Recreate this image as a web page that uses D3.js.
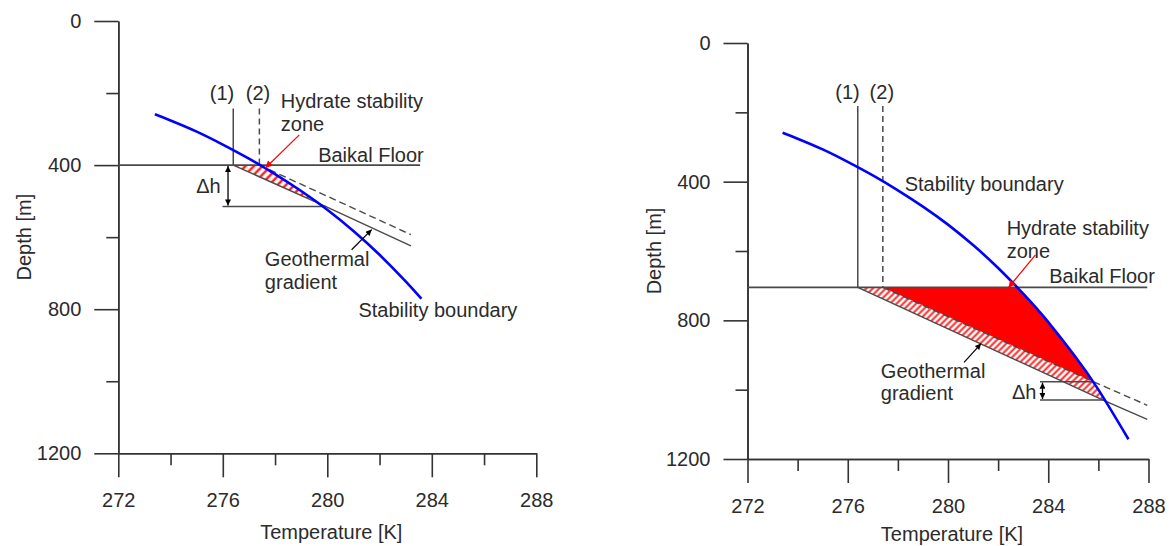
<!DOCTYPE html>
<html><head><meta charset="utf-8">
<script src="https://cdn.jsdelivr.net/npm/d3@7"></script>
<style>
body{margin:0;background:#fff}
svg{display:block}
text{font-family:"Liberation Sans",Arial,sans-serif;font-size:20px;fill:#2b2b2b}
</style>
</head><body>
<svg id="c" width="1173" height="546"></svg>
<script>
// ---------- tick values ----------
const tempTicks = [272, 276, 280, 284, 288];
const tempMinorTicks = [274, 278, 282, 286];
const depthTicks = [0, 400, 800, 1200];
const depthMinorTicks = [200, 600, 1000];

// ---------- stability boundary (T [K], depth [m]) ----------
const stabilityT     = [273.4, 274.0, 275.0, 276.0, 277.0, 278.0, 279.0, 280.0, 281.0, 282.0, 283.0, 283.6, 284.0, 285.0, 286.0, 287.2];
const stabilityDepth = [259,   276,   307,   343,   382,   425,   472,   524,   583,   649,   723,   771,   805,   897,   1000,  1143];
const leftStabilityMaxT = 283.6;

// ---------- left panel ----------
const leftFloorDepth = 400;
const leftFloorT = [272, 283.55];
const leftLine1T = 276.4, leftLine2T = 277.4;
const leftLinesDepth = [243, 400];
const leftGeoSolidT = [276.4, 279.95, 283.2];
const leftGeoSolidD = [400, 515, 624];
const leftGeoDashT = [277.4, 283.2];
const leftGeoDashD = [400, 593];
const leftDeltaLineT = [275.99, 279.95];
const leftDeltaLineD = 515;
const leftDeltaArrowT = 276.2;
const leftDeltaArrowD = [400, 515];
const leftRedArrow = [[278.93, 316], [277.63, 408]];
const leftBlackArrow = [[280.93, 635], [281.70, 579]];
const leftLabels = [
  {t: "(1)", T: 275.97, D: 200, a: "middle"},
  {t: "(2)", T: 277.35, D: 200, a: "middle"},
  {t: "Hydrate stability", T: 278.22, D: 222, a: "start"},
  {t: "zone", T: 278.22, D: 285, a: "start"},
  {t: "Baikal Floor", T: 279.65, D: 373, a: "start"},
  {t: "\u0394h", T: 275.92, D: 458, a: "end"},
  {t: "Geothermal", T: 277.61, D: 661, a: "start"},
  {t: "gradient", T: 277.61, D: 725, a: "start"},
  {t: "Stability boundary", T: 281.19, D: 803, a: "start"}
];

// ---------- right panel ----------
const rightFloorDepth = 705;
const rightFloorT = [272, 287.95];
const rightLine1T = 276.4, rightLine2T = 277.4;
const rightLinesDepth = [182, 705];
const rightGeoSolidT = [276.4, 286.19, 287.95];
const rightGeoSolidD = [705, 1030, 1086];
const rightGeoDashT = [277.4, 285.8, 287.95];
const rightGeoDashD = [705, 977, 1045];
const rightDeltaTopT = [283.67, 285.8];
const rightDeltaTopD = 977;
const rightDeltaBotT = [283.67, 286.19];
const rightDeltaBotD = 1030;
const rightDeltaArrowT = 283.77;
const rightRedArrow = [[283.49, 611], [282.41, 706]];
const rightBlackArrow = [[280.64, 921], [281.32, 867]];
const rightLabels = [
  {t: "(1)", T: 275.99, D: 140, a: "middle"},
  {t: "(2)", T: 277.36, D: 140, a: "middle"},
  {t: "Stability boundary", T: 278.27, D: 407, a: "start"},
  {t: "Hydrate stability", T: 282.34, D: 533, a: "start"},
  {t: "zone", T: 282.34, D: 599, a: "start"},
  {t: "Baikal Floor", T: 284.04, D: 671, a: "start"},
  {t: "Geothermal", T: 277.32, D: 945, a: "start"},
  {t: "gradient", T: 277.32, D: 1010, a: "start"},
  {t: "\u0394h", T: 283.53, D: 1008, a: "end"}
];

const svg = d3.select("#c");
const defs = svg.append("defs");

function hatch(id, s) {
  const p = defs.append("pattern").attr("id", id).attr("patternUnits", "userSpaceOnUse")
    .attr("width", s).attr("height", s).attr("patternTransform", "rotate(45)");
  p.append("rect").attr("width", s).attr("height", s).attr("fill", "#fff");
  p.append("line").attr("x1", s / 2).attr("x2", s / 2).attr("y1", 0).attr("y2", s)
    .attr("stroke", "#ff2020").attr("stroke-width", s * 0.42);
}
hatch("hatchL", 6);
hatch("hatchR", 4.6);

function marker(id, color, w, h) {
  defs.append("marker").attr("id", id).attr("viewBox", "0 0 10 10").attr("refX", 10).attr("refY", 5)
    .attr("markerUnits", "userSpaceOnUse").attr("markerWidth", w).attr("markerHeight", h)
    .attr("orient", "auto-start-reverse")
    .append("path").attr("d", "M0,0 L10,5 L0,10 Z").attr("fill", color);
}
marker("arrRed", "#ff0000", 9, 7);
marker("arrBlk", "#000", 8, 6);

function panel(cfg) {
  const x = d3.scaleLinear().domain([272, 288]).range(cfg.xr);
  const y = d3.scaleLinear().domain([0, 1200]).range(cfg.yr);
  const g = svg.append("g");
  const pts = (T, D) => T.map((t, i) => [x(t), y(D[i])]);
  const lineGen = d3.line();
  const blueGen = d3.line().curve(d3.curveNatural);

  const stabPts = stabilityT.map((t, i) => [t, stabilityDepth[i]])
    .filter(d => d[0] <= cfg.stabMaxT + 1e-9).map(d => [x(d[0]), y(d[1])]);

  // clip: region left of (below) the stability boundary
  const last = stabPts[stabPts.length - 1], first = stabPts[0];
  const clipId = "clip" + cfg.id;
  defs.append("clipPath").attr("id", clipId).append("path")
    .attr("d", blueGen(stabPts) + `L${last[0]},${last[1] + 2000}L${first[0] - 2000},${last[1] + 2000}L${first[0] - 2000},${first[1]}Z`);

  // shaded regions
  cfg.regions.forEach(r => {
    g.append("path").attr("d", lineGen(r.poly.map(d => [x(d[0]), y(d[1])])) + "Z")
      .attr("fill", r.fill).attr("clip-path", `url(#${clipId})`);
  });

  // axes
  const ax = g.append("g").attr("transform", `translate(0,${cfg.yr[1]})`)
    .call(d3.axisBottom(x).tickValues(tempTicks).tickFormat(d3.format("d")).tickSize(24).tickSizeOuter(0).tickPadding(16));
  const axm = g.append("g").attr("transform", `translate(0,${cfg.yr[1]})`)
    .call(d3.axisBottom(x).tickValues(tempMinorTicks).tickFormat("").tickSize(12).tickSizeOuter(0));
  const ay = g.append("g").attr("transform", `translate(${cfg.xr[0]},0)`)
    .call(d3.axisLeft(y).tickValues(depthTicks).tickFormat(d3.format("d")).tickSize(24).tickSizeOuter(0).tickPadding(13));
  const aym = g.append("g").attr("transform", `translate(${cfg.xr[0]},0)`)
    .call(d3.axisLeft(y).tickValues(depthMinorTicks).tickFormat("").tickSize(12).tickSizeOuter(0));
  [ax, axm, ay, aym].forEach(a => {
    a.selectAll("path,line").attr("stroke", "#333").attr("stroke-width", 1.6);
    a.selectAll("text").attr("font-size", 20).attr("fill", "#2b2b2b")
      .style("font-family", '"Liberation Sans",Arial,sans-serif');
  });

  // axis titles
  g.append("text").attr("x", (cfg.xr[0] + cfg.xr[1]) / 2 + 4).attr("y", cfg.titleY).attr("dy", "0.35em")
    .attr("text-anchor", "middle").text("Temperature [K]");
  g.append("text").attr("transform", `translate(${cfg.xr[0] - 94},${(cfg.yr[0] + cfg.yr[1]) / 2}) rotate(-90)`)
    .attr("dy", "0.35em").attr("text-anchor", "middle").text("Depth [m]");

  const grey = "#4a4a4a";
  // floor
  g.append("line").attr("x1", x(cfg.floorT[0])).attr("x2", x(cfg.floorT[1]))
    .attr("y1", y(cfg.floorD)).attr("y2", y(cfg.floorD)).attr("stroke", grey).attr("stroke-width", 1.6);
  // vertical (1) and (2)
  g.append("line").attr("x1", x(cfg.l1)).attr("x2", x(cfg.l1)).attr("y1", y(cfg.lD[0])).attr("y2", y(cfg.lD[1]))
    .attr("stroke", grey).attr("stroke-width", 1.5);
  g.append("line").attr("x1", x(cfg.l2)).attr("x2", x(cfg.l2)).attr("y1", y(cfg.lD[0])).attr("y2", y(cfg.lD[1]))
    .attr("stroke", grey).attr("stroke-width", 1.5).attr("stroke-dasharray", "6,4");
  // geothermal gradients
  g.append("path").attr("d", lineGen(pts(cfg.geoT, cfg.geoD))).attr("fill", "none")
    .attr("stroke", grey).attr("stroke-width", 1.4);
  g.append("path").attr("d", lineGen(pts(cfg.dashT, cfg.dashD))).attr("fill", "none")
    .attr("stroke", grey).attr("stroke-width", 1.4).attr("stroke-dasharray", "7,4");
  // delta h lines
  cfg.deltaLines.forEach(l => {
    g.append("line").attr("x1", x(l.T[0])).attr("x2", x(l.T[1])).attr("y1", y(l.D)).attr("y2", y(l.D))
      .attr("stroke", grey).attr("stroke-width", 1.5);
  });
  g.append("line").attr("x1", x(cfg.dArrowT)).attr("x2", x(cfg.dArrowT))
    .attr("y1", y(cfg.dArrowD[0]) + 1).attr("y2", y(cfg.dArrowD[1]) - 1)
    .attr("stroke", "#000").attr("stroke-width", 1.3)
    .attr("marker-start", "url(#arrBlk)").attr("marker-end", "url(#arrBlk)");

  // stability boundary
  g.append("path").attr("d", blueGen(stabPts)).attr("fill", "none")
    .attr("stroke", "#0000ff").attr("stroke-width", 2.6);

  // annotation arrows
  g.append("line").attr("x1", x(cfg.redArrow[0][0])).attr("y1", y(cfg.redArrow[0][1]))
    .attr("x2", x(cfg.redArrow[1][0])).attr("y2", y(cfg.redArrow[1][1]))
    .attr("stroke", "#ff0000").attr("stroke-width", 1.2).attr("marker-end", "url(#arrRed)");
  g.append("line").attr("x1", x(cfg.blkArrow[0][0])).attr("y1", y(cfg.blkArrow[0][1]))
    .attr("x2", x(cfg.blkArrow[1][0])).attr("y2", y(cfg.blkArrow[1][1]))
    .attr("stroke", "#000").attr("stroke-width", 1.2).attr("marker-end", "url(#arrBlk)");

  // labels
  cfg.labels.forEach(l => {
    g.append("text").attr("x", x(l.T)).attr("y", y(l.D)).attr("dy", "0.35em")
      .attr("text-anchor", l.a).text(l.t);
  });
}

panel({
  id: "L", xr: [118.3, 536.3], yr: [21, 453.3], titleY: 532, stabMaxT: leftStabilityMaxT,
  floorT: leftFloorT, floorD: leftFloorDepth, l1: leftLine1T, l2: leftLine2T, lD: leftLinesDepth,
  geoT: leftGeoSolidT, geoD: leftGeoSolidD, dashT: leftGeoDashT, dashD: leftGeoDashD,
  deltaLines: [{T: leftDeltaLineT, D: leftDeltaLineD}],
  dArrowT: leftDeltaArrowT, dArrowD: leftDeltaArrowD,
  redArrow: leftRedArrow, blkArrow: leftBlackArrow, labels: leftLabels,
  regions: [
    {fill: "url(#hatchL)", poly: [[leftGeoSolidT[0], leftFloorDepth], [leftGeoSolidT[2], leftFloorDepth]]
      .concat(leftGeoSolidT.map((t, i) => [t, leftGeoSolidD[i]]).reverse())}
  ]
});

panel({
  id: "R", xr: [747.5, 1148.5], yr: [43, 459], titleY: 534, stabMaxT: 999,
  floorT: rightFloorT, floorD: rightFloorDepth, l1: rightLine1T, l2: rightLine2T, lD: rightLinesDepth,
  geoT: rightGeoSolidT, geoD: rightGeoSolidD, dashT: rightGeoDashT, dashD: rightGeoDashD,
  deltaLines: [{T: rightDeltaTopT, D: rightDeltaTopD}, {T: rightDeltaBotT, D: rightDeltaBotD}],
  dArrowT: rightDeltaArrowT, dArrowD: [rightDeltaTopD, rightDeltaBotD],
  redArrow: rightRedArrow, blkArrow: rightBlackArrow, labels: rightLabels,
  regions: [
    {fill: "url(#hatchR)", poly: [[rightGeoSolidT[0], rightFloorDepth]]
      .concat(rightGeoDashT.map((t, i) => [t, rightGeoDashD[i]]))
      .concat(rightGeoSolidT.map((t, i) => [t, rightGeoSolidD[i]]).reverse())},
    {fill: "#ff0000", poly: [[rightGeoDashT[0], rightFloorDepth], [rightGeoDashT[2], rightFloorDepth]]
      .concat(rightGeoDashT.map((t, i) => [t, rightGeoDashD[i]]).reverse())}
  ]
});
</script>
</body></html>
